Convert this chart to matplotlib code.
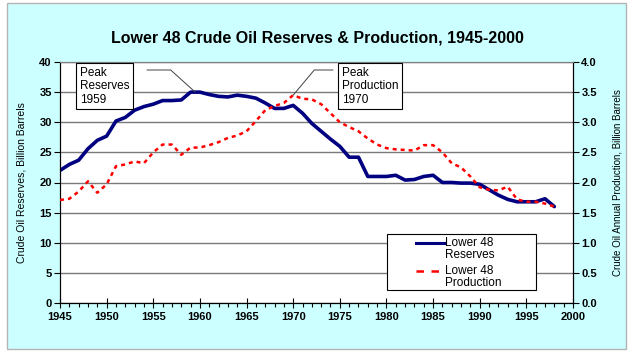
import numpy as np
import matplotlib
matplotlib.use("Agg")
import matplotlib.pyplot as plt
from matplotlib.patches import Rectangle
from matplotlib.lines import Line2D
from matplotlib.ticker import MultipleLocator, FormatStrFormatter

years = list(range(1945, 1999))

# Lower 48 proved reserves, billion barrels (left axis)
reserves = [22.0, 23.0, 23.7, 25.6, 27.0, 27.7, 30.2, 30.8, 32.0, 32.6,
            33.0, 33.6, 33.6, 33.7, 35.0, 35.0, 34.6, 34.3, 34.2, 34.5,
            34.3, 34.0, 33.2, 32.3, 32.3, 32.8, 31.5, 29.8, 28.5, 27.2,
            26.0, 24.2, 24.2, 21.0, 21.0, 21.0, 21.2, 20.4, 20.5, 21.0,
            21.2, 20.0, 20.0, 19.9, 19.9, 19.7, 18.8, 17.9, 17.2, 16.8,
            16.8, 16.8, 17.3, 16.0]

# Lower 48 annual production, billion barrels (right axis)
production = [1.71, 1.73, 1.85, 2.02, 1.83, 1.97, 2.27, 2.30, 2.35, 2.32,
              2.50, 2.63, 2.63, 2.46, 2.58, 2.58, 2.62, 2.67, 2.74, 2.78,
              2.85, 3.02, 3.20, 3.27, 3.32, 3.45, 3.39, 3.38, 3.30, 3.15,
              3.00, 2.92, 2.85, 2.73, 2.63, 2.57, 2.55, 2.54, 2.53, 2.62,
              2.62, 2.50, 2.32, 2.25, 2.10, 1.92, 1.88, 1.87, 1.93, 1.72,
              1.68, 1.68, 1.65, 1.60]

series_labels = ["Lower 48\nReserves", "Lower 48\nProduction"]

NAVY = "#000080"
RED = "#ff0000"
SANS = ["Liberation Sans", "DejaVu Sans"]

W, H = 634, 352
fig = plt.figure(figsize=(W / 100, H / 100), dpi=100, facecolor="white")
fig.patches.append(Rectangle((7 / W, 3 / H), 619 / W, 346 / H,
                             transform=fig.transFigure, facecolor="#ccffff",
                             edgecolor="#b4b4b4", linewidth=1.0, zorder=-5))

ax = fig.add_axes([60 / W, 1 - 303 / H, 513 / W, 241 / H])
ax.set_facecolor("white")
ax2 = ax.twinx()

ax.plot(years, reserves, color=NAVY, lw=2.6, solid_capstyle="round", zorder=3)
ax2.plot(years, production, color=RED, lw=1.8, ls=(0, (1.6, 1.6)), zorder=3)

ax.set_xlim(1945, 2000)
ax.set_ylim(0, 40)
ax2.set_ylim(0, 4)
ax.xaxis.set_major_locator(MultipleLocator(5))
ax.xaxis.set_minor_locator(MultipleLocator(1))
ax.yaxis.set_major_locator(MultipleLocator(5))
ax2.yaxis.set_major_locator(MultipleLocator(0.5))
ax2.yaxis.set_major_formatter(FormatStrFormatter("%.1f"))

ax.grid(axis="y", color="#7a7a7a", lw=1.0)
ax.set_axisbelow(True)

for a in (ax, ax2):
    for s in a.spines.values():
        s.set_color("black")
    a.spines["top"].set_color("#808080")
ax.tick_params(axis="x", which="major", direction="inout", length=7, width=0.8, pad=3)
ax.tick_params(axis="x", which="minor", direction="out", length=3, width=0.8)
ax.tick_params(axis="y", direction="out", length=4, width=0.8, pad=2)
ax2.tick_params(axis="y", direction="out", length=4, width=0.8, pad=2)

for lab in ax.get_xticklabels() + ax.get_yticklabels() + ax2.get_yticklabels():
    lab.set_family(SANS)
    lab.set_fontweight("bold")
    lab.set_fontsize(8)

ax.set_ylabel("Crude Oil Reserves, Billion Barrels", family=SANS, fontsize=7.5, labelpad=9)
ax2.set_ylabel("Crude Oil Annual Production, Billion Barrels", family=SANS,
               fontsize=7, labelpad=11)

fig.text(0.5, 1 - 38 / H, "Lower 48 Crude Oil Reserves & Production, 1945-2000",
         ha="center", va="center", family=SANS, fontsize=11.5, fontweight="bold")

# peak annotations
i_r = int(np.argmax(reserves))
i_p = int(np.argmax(production))
box = dict(boxstyle="square,pad=0.3", facecolor="white", edgecolor="black", lw=0.8)
fig.text(80 / W, 1 - 67 / H, "Peak\nReserves\n1959", ha="left", va="top",
         family=SANS, fontsize=8.5, linespacing=1.15, bbox=box, zorder=6)
fig.text(342 / W, 1 - 67 / H, "Peak\nProduction\n1970", ha="left", va="top",
         family=SANS, fontsize=8.5, linespacing=1.15, bbox=box, zorder=6)

lead = dict(arrowstyle="-", color="#404040", lw=0.7, shrinkA=0, shrinkB=0)
ax.annotate("", xy=(years[i_r] + 0.5, reserves[i_r]), xycoords="data",
            xytext=(147, H - 70), textcoords="figure pixels",
            arrowprops=dict(lead, connectionstyle="angle,angleA=0,angleB=-42,rad=0"))
ax2.annotate("", xy=(years[i_p], production[i_p]), xycoords="data",
             xytext=(333, H - 70), textcoords="figure pixels",
             arrowprops=dict(lead, connectionstyle="angle,angleA=0,angleB=50,rad=0"))

# legend box, drawn by hand to keep the wide frame and top-aligned keys
fig.patches.append(Rectangle((387 / W, 1 - 290 / H), 149 / W, 56 / H,
                             transform=fig.transFigure, facecolor="white",
                             edgecolor="black", linewidth=0.8, zorder=6))
key_styles = [dict(color=NAVY, lw=2.2), dict(color=RED, lw=1.8, ls=(0, (3, 3)))]
for k, (lab, st) in enumerate(zip(series_labels, key_styles)):
    top = 237 + k * 28
    yk = 1 - (top + 6) / H
    fig.add_artist(Line2D([416 / W, 444 / W], [yk, yk], transform=fig.transFigure,
                          zorder=7, **st))
    fig.text(445 / W, 1 - top / H, lab, ha="left", va="top", family=SANS,
             fontsize=8.5, linespacing=1.0, zorder=7)

fig.savefig("out.png", dpi=100, facecolor="white")
